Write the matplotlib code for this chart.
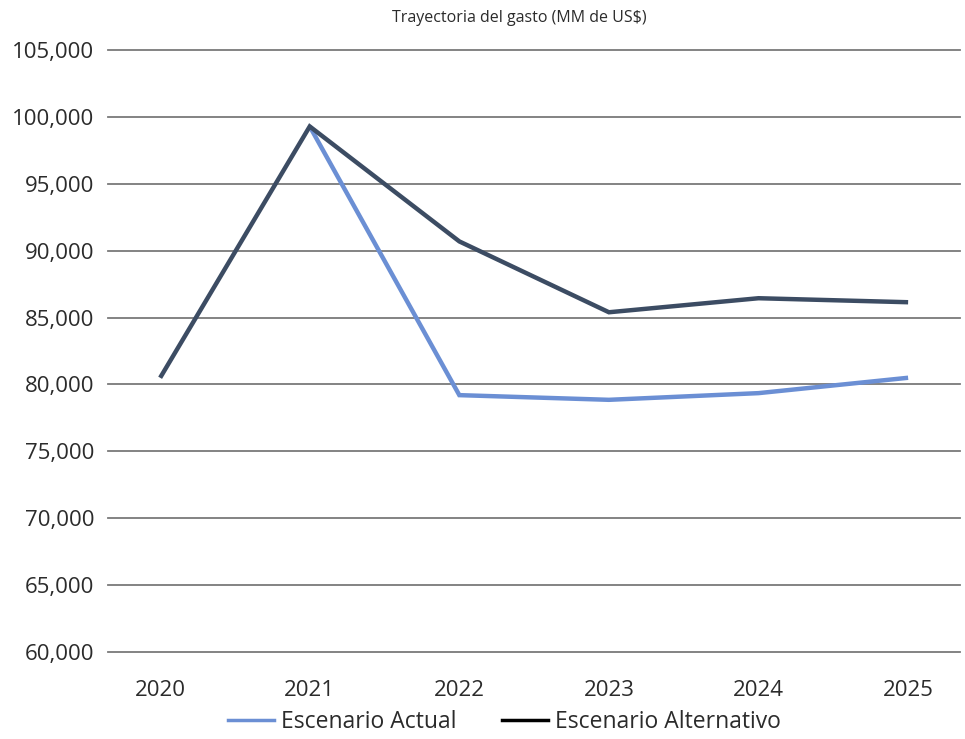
import numpy as np
import matplotlib
matplotlib.use("Agg")
import matplotlib.pyplot as plt
from matplotlib.lines import Line2D
from matplotlib.ticker import FuncFormatter

plt.rcParams['font.family'] = ['Open Sans', 'DejaVu Sans']

years = [2020, 2021, 2022, 2023, 2024, 2025]
escenario_actual = [np.nan, 99300, 79200, 78850, 79350, 80500]
escenario_alternativo = [80500, 99300, 90700, 85400, 86450, 86150]
y_ticks = [60000, 65000, 70000, 75000, 80000, 85000, 90000, 95000, 100000, 105000]

color_actual = "#6b8fd4"
color_alt = "#3c4c63"

fig = plt.figure(figsize=(9.65, 7.39), dpi=100)
ax = fig.add_axes([0.112, 0.118, 0.883, 0.814])

ax.set_ylim(60000, 105000)
ax.set_xlim(2019.652, 2025.348)
ax.set_yticks(y_ticks)
ax.set_xticks(years)
ax.yaxis.set_major_formatter(FuncFormatter(lambda v, p: f"{int(v):,}"))

for t in y_ticks:
    ax.axhline(t, color="#7a7a7a", lw=1.3, zorder=1, clip_on=False)

ax.plot(years, escenario_actual, color=color_actual, lw=3.2, zorder=3,
        solid_joinstyle="miter", solid_capstyle="butt")
ax.plot(years, escenario_alternativo, color=color_alt, lw=3.2, zorder=4,
        solid_joinstyle="miter", solid_capstyle="butt")

for s in ax.spines.values():
    s.set_visible(False)
ax.tick_params(axis="both", length=0, colors="#2b2b2b")
ax.tick_params(axis="y", pad=10, labelsize=16)
ax.tick_params(axis="x", pad=20, labelsize=16)

fig.text(0.538, 0.976, "Trayectoria del gasto (MM de US$)", ha="center", va="center",
         fontsize=11.5, color="#2b2b2b")

handles = [Line2D([], [], color=color_actual, lw=2.5),
           Line2D([], [], color="black", lw=2.5)]
fig.legend(handles, ["Escenario Actual", "Escenario Alternativo"],
           loc="center", bbox_to_anchor=(0.523, 0.023), ncol=2, frameon=False,
           fontsize=16.5, handlelength=2.0, handletextpad=0.3, columnspacing=2.0,
           labelcolor="#2b2b2b")

fig.savefig("out.png", dpi=100)
